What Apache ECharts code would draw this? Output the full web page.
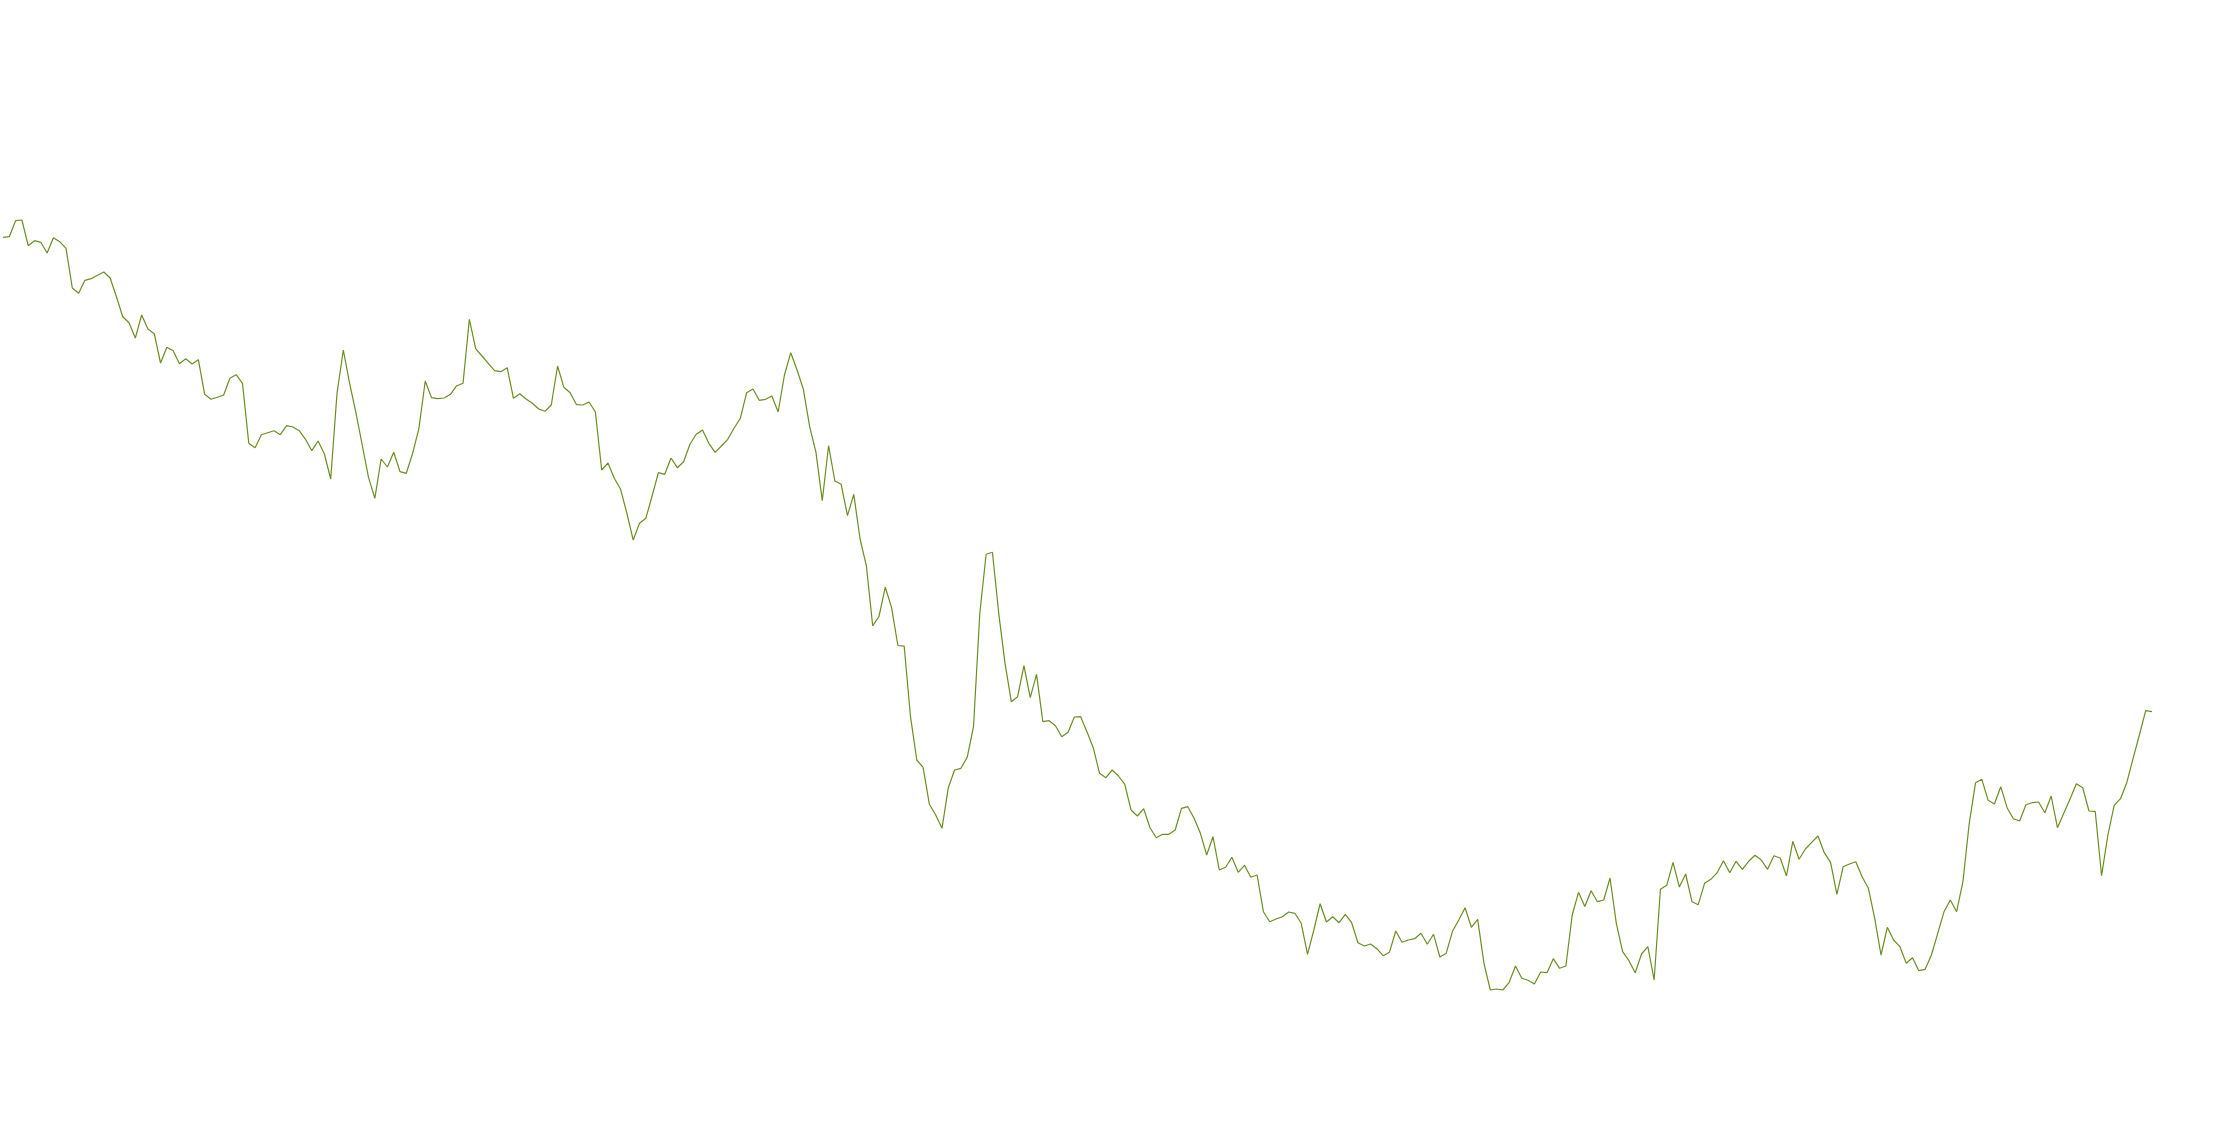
<!DOCTYPE html>
<html>
<head>
<meta charset="utf-8">
<script src="https://cdn.jsdelivr.net/npm/echarts@6/dist/echarts.min.js"></script>
<style>
html,body{margin:0;padding:0;background:#fff;}
#chart{width:2232px;height:1148px;}
</style>
</head>
<body>
<div id="chart"></div>
<script>
// Values, in order (one point per period)
const seg1 = [910.7,911.3,927.3,928,902.3,907.3,905.7,895,910.3,906.3,899.7,860,854.7,867.7,869.3,872.7,876,870,851.3,831.3,825.3,810,833,819,814.3,785,800.7,797.3,784.3,789.3,784,788.3,753.7,748.7,750.7,752.7,769.7,773.3,764.7,704.7,700.3,713.3,715.3,717.3,713.3,722.3,721,717.3,708.7,697.3,707,694,669,754.7,798,764.7,735.3,703,670.7,649.7,689,681,695.7,676.3,674.7,694.7,719.7,767,750.3,749.3];
const seg2 = [750,753.7,762.3,764.7,828.7,799.3,792,784.7,777.3,776.3,780.3,749.7,754.3,749,744.7,739,736.7,743,782,760.7,755.3,743.3,743,746,736,678,685,669.7,658.7,634.7,608,624.7,629.7,652,675.3,673.7,690,680.3,686.3,703.7,713.7,718,704.7,695.7,702,708.7,719.7,729.7,755.3,759,747.7,748.7,752,736,773,795.3,778,758.7,721.3,695.7,647.3,702.3,667,663.7,632.3,653.7,609,582.2,522.2,531.5];
const seg3 = [560.8,540.4,502.5,501.8,431.3,388,380.7,343.7,333,319.7,360.3,378,379.7,390.7,421.3,534.7,593.7,595.7,534.7,484.7,446.3,451.3,482.3,450.3,473.7,426.3,427.3,422.3,411.3,415.7,431,431.3,416.3,400.3,374.7,370.3,378,372,363.7,338,332,339.3,320.3,310.3,313.7,313.7,318,339.7,341.3,329.7,314.7,293,311.3,278,280.7,290.7,275.7,282.7,270.7,273,236.3,226.3,229,231.3,236,234.7,224.7,193.7,218,244.3];
const seg4 = [226,231.3,225.3,233.7,225.3,205.3,202,204,199.3,192.3,195.7,217,205.7,208,209.3,214.7,203.7,213.7,191,194.7,216.7,228,240.3,220.7,228.7,184.7,158,159,158,165.7,182,169.7,167.7,164,176,175.3,189.3,179.7,182,233,255.7,241.5,257.3,246.3,248,270,224.7,196.3,187.3,175.3,194,201.3,168,258.7,262.7,285.7,261,274,246.3,243.3,264.7,268.7,275.3,287.3,275.3,286.7,278.7,286.7,292.7,288];
const seg5 = [278.7,292.3,290,272,306.7,288.7,299,305.7,312,295.3,285.7,253.7,281.3,284,286.3,271.3,259.7,229.7,193,220.7,208,201.3,184.7,190.3,177.3,178.7,193,214.7,236.3,248,236.3,266.3,324.7,365.3,368.7,347.7,344,361.3,340.3,329.3,327,343.3,345.3,346,335.3,352,320.3,334.7,349,364.3,360.3,337,336.3,272.3,313,342.7,349.3,365.3,389.7,413,437.3,436.3];

const values = seg1.concat(seg2, seg3, seg4, seg5);
const categories = values.map((_, i) => String(i + 1));

const chart = echarts.init(document.getElementById('chart'));
chart.setOption({
  backgroundColor: '#ffffff',
  animation: false,
  grid: { left: 3, right: 80, top: 0, bottom: 0, containLabel: false },
  xAxis: { type: 'category', data: categories, boundaryGap: false, show: false },
  yAxis: { type: 'value', min: 0, max: 1148, show: false },
  series: [{
    type: 'line',
    data: values,
    showSymbol: false,
    lineStyle: { color: '#6b8e23', width: 1.2 },
    itemStyle: { color: '#6b8e23' }
  }]
});
</script>
</body>
</html>
